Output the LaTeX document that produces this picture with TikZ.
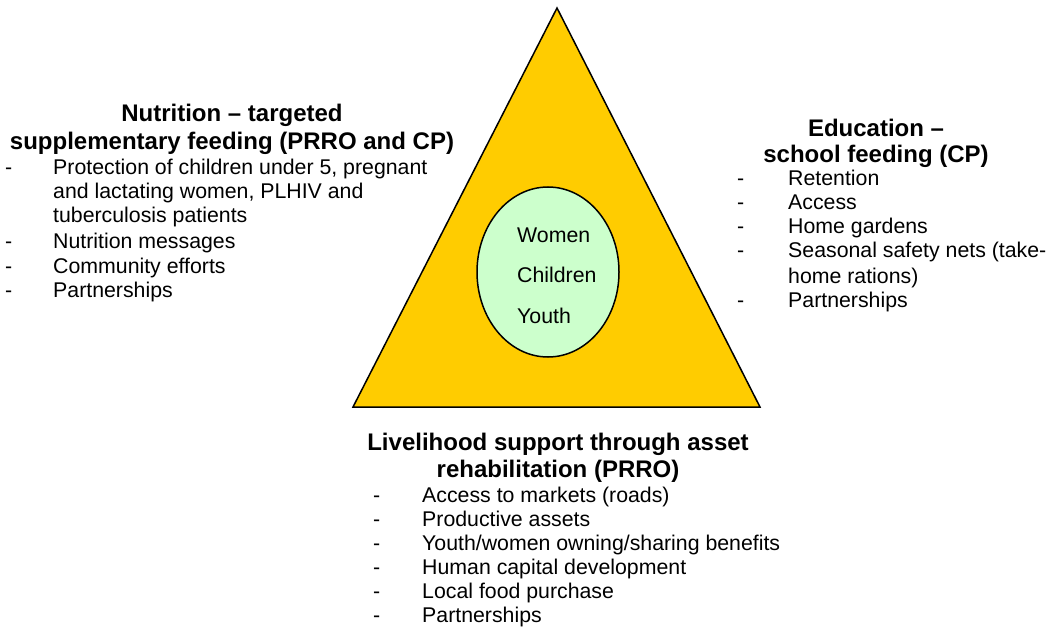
\documentclass[tikz,border=0pt]{standalone}
\usepackage{fontspec}
\setmainfont{Liberation Sans}
\definecolor{trifill}{HTML}{FFCC00}
\definecolor{ellfill}{HTML}{CCFFCC}
\begin{document}
\begin{tikzpicture}[x=1pt,y=-1pt,
  head/.style={font=\fontsize{24}{28}\bfseries\selectfont, anchor=base, inner sep=0pt},
  item/.style={font=\fontsize{21.3}{24}\selectfont, anchor=base west, inner sep=0pt},
  dashitem/.style={font=\fontsize{21.3}{24}\selectfont, anchor=base west, inner sep=0pt}]
\useasboundingbox (0,0) rectangle (1051,628);
% triangle
\draw[line width=1.5pt, fill=trifill, line join=miter] (557,8) -- (760,407) -- (353,407) -- cycle;
% ellipse
\draw[line width=1.5pt, fill=ellfill] (548,272) ellipse [x radius=71, y radius=85];
\node[item] (w) at (517,243) {Women};
\node[item] (c) at (517,282) {Children};
\node[item] (y) at (517,323) {Youth};
% left block
\node[head] (lh1) at (232,122) {Nutrition – targeted};
\node[head] (lh2) at (232,150) {supplementary feeding (PRRO and CP)};
\node[dashitem] (ld1) at (5,175) {-};
\node[item] (l1a) at (53,175) {Protection of children under 5, pregnant};
\node[item] (l1b) at (53,199) {and lactating women, PLHIV and};
\node[item] (l1c) at (53,223) {tuberculosis patients};
\node[dashitem] (ld2) at (5,248) {-};
\node[item] (l2) at (53,248) {Nutrition messages};
\node[dashitem] (ld3) at (5,273) {-};
\node[item] (l3) at (53,273) {Community efforts};
\node[dashitem] (ld4) at (5,297) {-};
\node[item] (l4) at (53,297) {Partnerships};
% right block
\node[head] (rh1) at (876,137) {Education –};
\node[head] (rh2) at (876,163) {school feeding (CP)};
\node[dashitem] (rd1) at (737,186) {-};
\node[item] (r1) at (788,186) {Retention};
\node[dashitem] (rd2) at (737,210) {-};
\node[item] (r2) at (788,210) {Access};
\node[dashitem] (rd3) at (737,234) {-};
\node[item] (r3) at (788,234) {Home gardens};
\node[dashitem] (rd4) at (737,258) {-};
\node[item] (r4a) at (788,258) {Seasonal safety nets (take-};
\node[item] (r4b) at (788,283) {home rations)};
\node[dashitem] (rd5) at (737,307) {-};
\node[item] (r5) at (788,307) {Partnerships};
% bottom block
\node[head] (bh1) at (558,450) {Livelihood support through asset};
\node[head] (bh2) at (558,477) {rehabilitation (PRRO)};
\node[dashitem] (bd1) at (373,502) {-};
\node[item] (b1) at (422,502) {Access to markets (roads)};
\node[dashitem] (bd2) at (373,526) {-};
\node[item] (b2) at (422,526) {Productive assets};
\node[dashitem] (bd3) at (373,550) {-};
\node[item] (b3) at (422,550) {Youth/women owning/sharing benefits};
\node[dashitem] (bd4) at (373,574) {-};
\node[item] (b4) at (422,574) {Human capital development};
\node[dashitem] (bd5) at (373,598) {-};
\node[item] (b5) at (422,598) {Local food purchase};
\node[dashitem] (bd6) at (373,622) {-};
\node[item] (b6) at (422,622) {Partnerships};
\end{tikzpicture}
\end{document}
